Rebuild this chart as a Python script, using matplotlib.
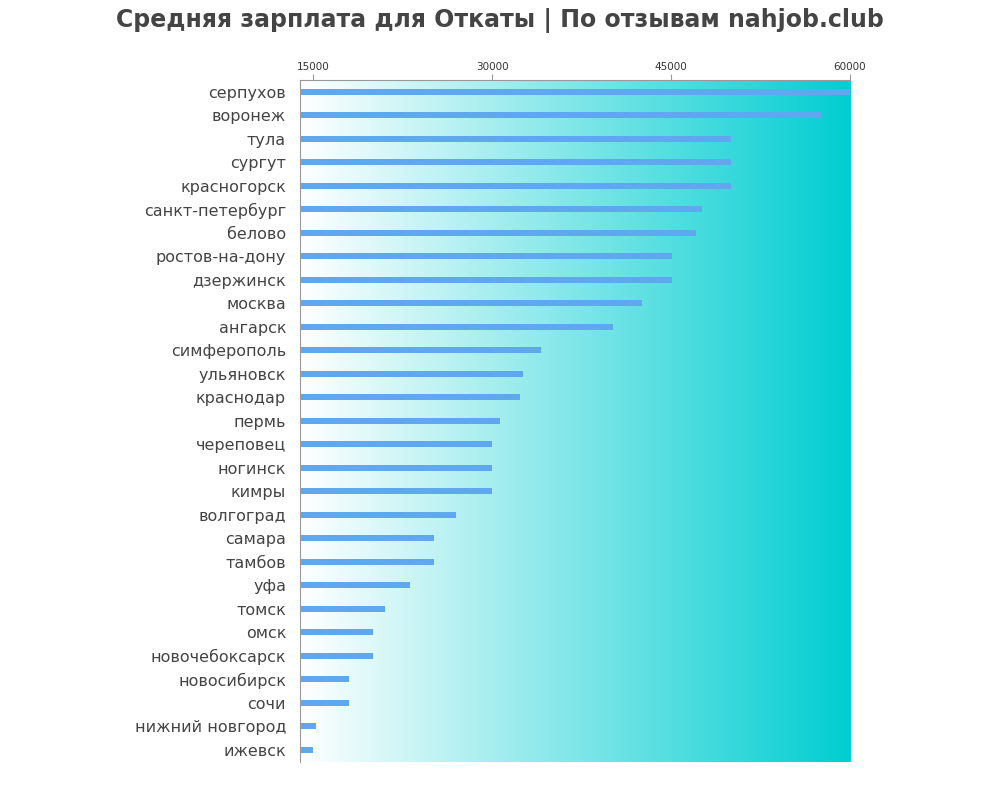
import matplotlib
matplotlib.use("Agg")
import matplotlib.pyplot as plt
import numpy as np
from matplotlib.colors import LinearSegmentedColormap
from matplotlib.transforms import ScaledTranslation

cities = ["серпухов","воронеж","тула","сургут","красногорск","санкт-петербург","белово",
          "ростов-на-дону","дзержинск","москва","ангарск","симферополь","ульяновск","краснодар",
          "пермь","череповец","ногинск","кимры","волгоград","самара","тамбов","уфа","томск",
          "омск","новочебоксарск","новосибирск","сочи","нижний новгород","ижевск"]
salaries = [60000,57600,50000,50000,50000,47600,47100,45100,45100,42600,40100,34100,32600,32300,
            30700,30000,30000,30000,27000,25100,25100,23100,21000,20000,20000,18000,18000,15250,15000]
ticks = [15000, 30000, 45000, 60000]
xmin, xmax = 13900, 60000

fig = plt.figure(figsize=(10, 8), dpi=100)
ax = fig.add_axes([0.300, 0.048, 0.550, 0.852])
cmap = LinearSegmentedColormap.from_list("g", ["#ffffff", "#00ced1"])
grad = np.linspace(0, 1, 256).reshape(1, -1)
n = len(cities)
ax.imshow(grad, cmap=cmap, aspect="auto", extent=[xmin, xmax, n - 0.5, -0.5], zorder=0)
y = np.arange(n)
ax.barh(y, np.array(salaries) - xmin, left=xmin, height=0.25, color="#5fa8ef", zorder=2)
ax.set_xlim(xmin, xmax)
ax.set_ylim(n - 0.5, -0.5)
ax.set_yticks(y)
ax.set_yticklabels(cities, fontsize=11.5, color="#444444")
off = ScaledTranslation(0, 3 / 72, fig.dpi_scale_trans)
for lab in ax.get_yticklabels():
    lab.set_transform(lab.get_transform() + off)
ax.tick_params(axis="y", length=0, pad=10)
ax.xaxis.tick_top()
ax.set_xticks(ticks)
ax.set_xticklabels([str(t) for t in ticks], fontsize=7.5, color="#333333")
ax.tick_params(axis="x", length=4, color="#999999", pad=2)
for s in ["right", "bottom"]:
    ax.spines[s].set_visible(False)
ax.spines["left"].set_color("#999999")
ax.spines["top"].set_color("#999999")
fig.suptitle("Средняя зарплата для Откаты | По отзывам nahjob.club", fontsize=17,
             fontweight="bold", color="#444444", y=0.99)
fig.savefig("out.png", dpi=100)
